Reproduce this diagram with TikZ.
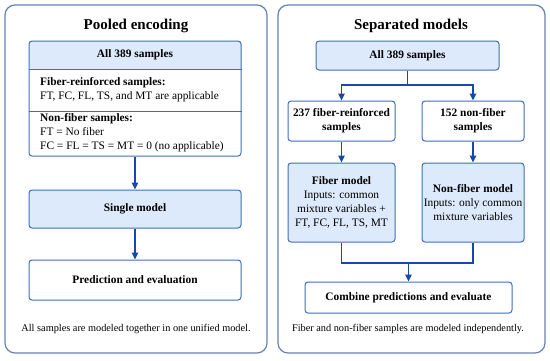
\documentclass[tikz,border=0pt]{standalone}
\usepackage{fontspec}
\setmainfont{Liberation Serif}
\usetikzlibrary{arrows.meta, positioning, calc, backgrounds}
\definecolor{panelgray}{RGB}{105,130,178}
\definecolor{boxblue}{RGB}{62,110,192}
\definecolor{lightblue}{RGB}{221,234,251}
\definecolor{arrowblue}{RGB}{25,72,172}

\begin{document}
\begin{tikzpicture}[
    x=1pt, y=-1pt,
    every node/.style={font=\fontsize{11.4}{14}\selectfont, inner sep=0pt},
    panel/.style={rectangle, draw=panelgray, line width=1.2pt, rounded corners=10pt},
    box/.style={rectangle, draw=boxblue, line width=1pt, rounded corners=3pt, fill=white, align=center, font=\fontsize{11.4}{14}\selectfont\bfseries},
    model/.style={box, fill=lightblue},
    heading/.style={font=\fontsize{15}{18}\selectfont\bfseries},
    note/.style={font=\fontsize{10.3}{12}\selectfont},
    arrow/.style={-{Triangle[length=7pt, width=6.5pt]}, line width=1.2pt, draw=arrowblue},
    link/.style={line width=1.2pt, draw=arrowblue}
]
\useasboundingbox (0,0) rectangle (550,360);

% Panels
\node[panel, minimum width=262pt, minimum height=348pt] (leftpanel) at (136,179) {};
\node[panel, minimum width=267pt, minimum height=348pt] (rightpanel) at (411.5,179) {};
\node[heading] (lefttitle) at (136,26) {Pooled encoding};
\node[heading] (righttitle) at (411,26) {Separated models};

% Pooled encoding
\node[box, fill=none, minimum width=212pt, minimum height=115pt] (pool) at (135,98.5) {};
\coordinate (hdrline) at ($(pool.north west)+(0,29)$);
\coordinate (sepline) at ($(pool.north west)+(0,71)$);
\begin{scope}[on background layer]
  \clip[rounded corners=3pt] (pool.north west) rectangle (pool.south east);
  \fill[lightblue] (pool.north west) rectangle (hdrline -| pool.east);
\end{scope}
\draw[boxblue, line width=1pt] (hdrline) -- (hdrline -| pool.east);
\draw[gray!80!black, line width=0.7pt] (sepline) -- (sepline -| pool.east);
\node[font=\fontsize{11.4}{14}\selectfont\bfseries] (allpool) at ($(pool.north)+(0,14.5)$) {All 389 samples};
\node[anchor=west, align=left] (fibertext) at (40,90) {\textbf{Fiber-reinforced samples:}\\FT, FC, FL, TS, and MT are applicable};
\node[anchor=west, align=left] (nonfibertext) at (40,133) {\textbf{Non-fiber samples:}\\FT = No fiber\\FC = FL = TS = MT = 0 (no applicable)};

\node[model, minimum width=212pt, minimum height=38pt] (single) at (135,209) {Single model};
\node[box, minimum width=212pt, minimum height=40pt] (pred) at (135,280) {Prediction and evaluation};

\draw[arrow] (pool) -- (single);
\draw[arrow] (single) -- (pred);

\node[note] (leftnote) at (136,329) {All samples are modeled together in one unified model.};

% Separated models
\node[model, minimum width=183pt, minimum height=29pt] (allsep) at (407.5,55.5) {All 389 samples};
\node[box, minimum width=107pt, minimum height=40pt] (fiber) at (341.5,121) {237 fiber-reinforced\\samples};
\node[box, minimum width=102pt, minimum height=40pt] (nonfiber) at (473,121) {152 non-fiber\\samples};
\node[model, minimum width=107pt, minimum height=79pt, font=\fontsize{11.4}{14}\selectfont] (fibermodel) at (341.5,202.5) {\textbf{Fiber model}\\Inputs: common\\mixture variables +\\FT, FC, FL, TS, MT};
\node[model, minimum width=102pt, minimum height=79pt, font=\fontsize{11.4}{14}\selectfont] (nonfibermodel) at (473,202.5) {\textbf{Non-fiber model}\\Inputs: only common\\mixture variables};
\node[box, minimum width=207pt, minimum height=31pt] (combine) at (408.5,297.5) {Combine predictions and evaluate};

\coordinate (split) at (407.5,85);
\draw[link] (allsep.south) -- (split);
\draw[arrow] (split) -| (fiber.north);
\draw[arrow] (split) -| (nonfiber.north);
\draw[arrow] (fiber) -- (fibermodel);
\draw[arrow] (nonfiber) -- (nonfibermodel);

\coordinate (merge) at (408.5,263);
\draw[link] (fibermodel.south) |- (merge);
\draw[link] (nonfibermodel.south) |- (merge);
\draw[arrow] (merge) -- (combine.north);

\node[note] (rightnote) at (408,329) {Fiber and non-fiber samples are modeled independently.};

\end{tikzpicture}
\end{document}
